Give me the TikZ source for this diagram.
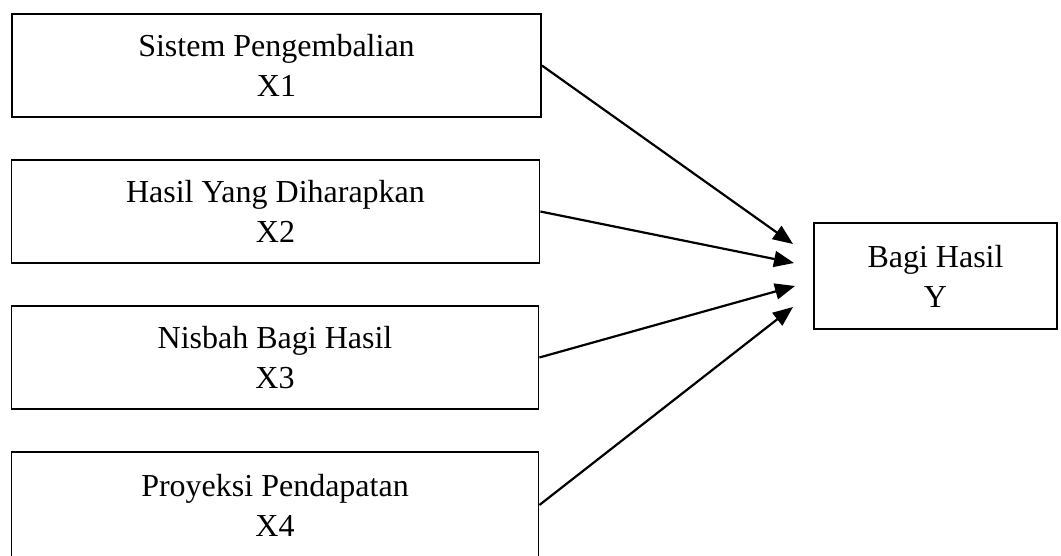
\documentclass[tikz,border=0pt]{standalone}
\usepackage{fontspec}
\setmainfont{Liberation Serif}
\usetikzlibrary{arrows.meta,positioning}

\begin{document}
\begin{tikzpicture}[x=1pt, y=-1pt,
  varbox/.style={draw=black, line width=1.8pt, fill=white, align=center,
                 font=\fontsize{32}{40}\selectfont, inner sep=0pt},
  panah/.style={-{Triangle[length=20pt, width=16pt]}, line width=2.2pt},
]
  \useasboundingbox (0,0) rectangle (1061,556);

  \node[varbox, minimum width=529pt, minimum height=103pt] (x1) at (276.5,65.5)  {Sistem Pengembalian\\X1};
  \node[varbox, minimum width=528pt, minimum height=103pt] (x2) at (275.5,211.5) {Hasil Yang Diharapkan\\X2};
  \node[varbox, minimum width=527pt, minimum height=103pt] (x3) at (275,357.5)   {Nisbah Bagi Hasil\\X3};
  \node[varbox, minimum width=527pt, minimum height=106pt] (x4) at (275,505)     {Proyeksi Pendapatan\\X4};
  \node[varbox, minimum width=243pt, minimum height=106pt] (y)  at (935.5,276)   {Bagi Hasil\\Y};

  % ujung panah berhenti sebelum kotak Y
  \coordinate (t1) at (793,244);
  \coordinate (t2) at (794,263);
  \coordinate (t3) at (795,286);
  \coordinate (t4) at (793,307);

  \draw[panah] (x1.east) -- (t1);
  \draw[panah] (x2.east) -- (t2);
  \draw[panah] (x3.east) -- (t3);
  \draw[panah] (x4.east) -- (t4);
\end{tikzpicture}
\end{document}
